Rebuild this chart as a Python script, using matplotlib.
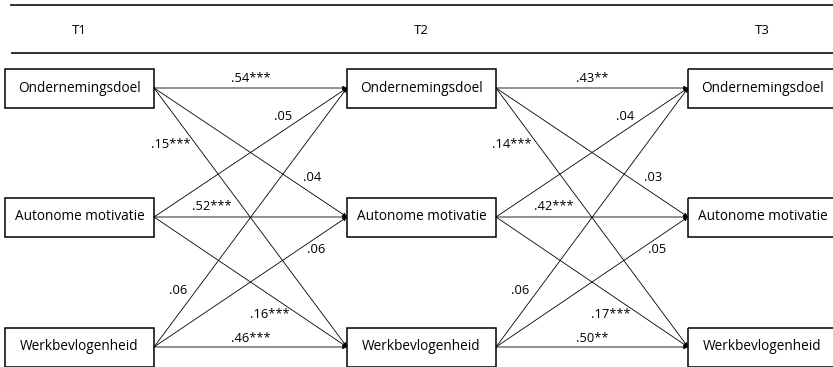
import matplotlib.pyplot as plt
from matplotlib.patches import Rectangle

plt.rcParams['font.family'] = ['Open Sans', 'DejaVu Sans']

# Meetmomenten en constructen
waves = ['T1', 'T2', 'T3']
constructs = ['Ondernemingsdoel', 'Autonome motivatie', 'Werkbevlogenheid']

# Padcoëfficiënten: rij = bron, kolom = doel
coef_t1_t2 = [['.54***', '.04', '.15***'],
              ['.05', '.52***', '.16***'],
              ['.06', '.06', '.46***']]
coef_t2_t3 = [['.43**', '.03', '.14***'],
              ['.04', '.42***', '.17***'],
              ['.06', '.05', '.50**']]

# Layout (in pixels, y naar beneden)
W, H = 833, 367
box_left = [5, 347, 688]
box_w = 149
box_h = 39
row_y = [88, 217, 347]
header_y = 31

# positie van elk label: fractie langs de pijl + verschuiving (dx, dy)
label_pos = [[(0.50, 0, -9), (0.82, 0, -16), (0.22, -26, 0)],
             [(0.67, 0, -14), (0.30, 0, -11), (0.60, 0, 20)],
             [(0.22, -18, 0), (0.84, 0, 12), (0.50, 0, -8)]]

fig = plt.figure(figsize=(W / 100, H / 100), dpi=100)
ax = fig.add_axes([0, 0, 1, 1])
ax.set_xlim(0, W)
ax.set_ylim(H, 0)
ax.axis('off')

# kopregels
ax.plot([10, W], [5, 5], color='#222222', lw=1.3, solid_capstyle='butt')
ax.plot([11, W], [53, 53], color='#222222', lw=1.3, solid_capstyle='butt')

for i, wave in enumerate(waves):
    ax.text(box_left[i] + box_w / 2, header_y, wave, ha='center', va='center', fontsize=9.5)
    for j, name in enumerate(constructs):
        ax.add_patch(Rectangle((box_left[i], row_y[j] - box_h / 2), box_w, box_h,
                               fill=False, ec='black', lw=1.1))
        ax.text(box_left[i] + box_w / 2, row_y[j], name, ha='center', va='center', fontsize=9.8)

for stage, coefs in enumerate([coef_t1_t2, coef_t2_t3]):
    x0 = box_left[stage] + box_w
    x1 = box_left[stage + 1]
    for s in range(3):
        for t in range(3):
            y0, y1 = row_y[s], row_y[t]
            ax.annotate('', xy=(x1, y1), xytext=(x0, y0),
                        arrowprops=dict(arrowstyle='-|>', lw=0.6, color='black',
                                        mutation_scale=6, shrinkA=0, shrinkB=0))
            f, dx, dy = label_pos[s][t]
            lx = x0 + f * (x1 - x0) + dx
            ly = y0 + f * (y1 - y0) + dy
            ax.text(lx, ly, coefs[s][t], ha='center', va='center', fontsize=9.3)

fig.savefig('out.png', dpi=100)
